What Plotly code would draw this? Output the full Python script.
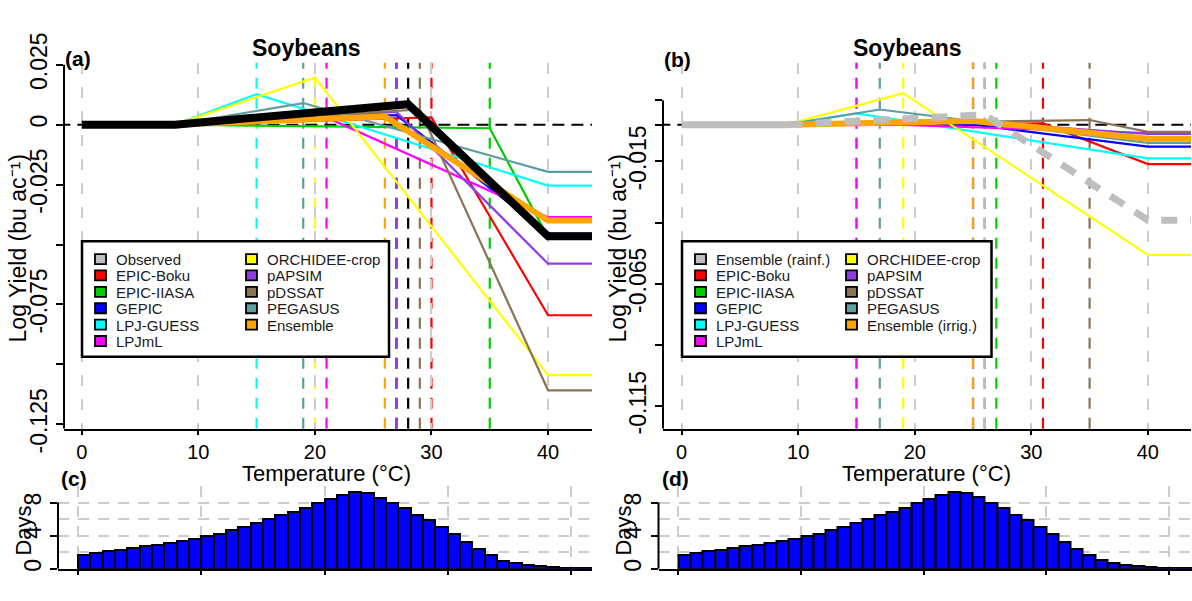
import plotly.graph_objects as go

W, H = 1192, 601
FONT = "Liberation Sans"

# ---------------- data ----------------
models_a = ["Observed", "EPIC-Boku", "EPIC-IIASA", "GEPIC", "LPJ-GUESS", "LPJmL",
            "ORCHIDEE-crop", "pAPSIM", "pDSSAT", "PEGASUS", "Ensemble"]
line_col_a = ["#000000", "#FF0000", "#00CD00", "#0000FF", "#00FFFF", "#FF00FF",
              "#FFFF00", "#8E3CE6", "#8B7355", "#5F9EA0", "#FFA500"]
leg_col_a = ["#BEBEBE", "#FF0000", "#00CD00", "#0000FF", "#00FFFF", "#FF00FF",
             "#FFFF00", "#8E3CE6", "#8B7355", "#5F9EA0", "#FFA500"]
start_a = 8
thr_a = [28, 30, 35, 27, 15, 21, 20, 27, 29, 19, 26]
peak_a = [0.0085, 0.0030, -0.0015, 0.0040, 0.0127, 0.0030, 0.0196, 0.0053, 0.0063, 0.0090, 0.0034]
end_a = [-0.0466, -0.0795, -0.0470, -0.0455, -0.0254, -0.0386, -0.1045, -0.0580, -0.1108, -0.0197, -0.0400]

models_b = ["Ensemble (rainf.)", "EPIC-Boku", "EPIC-IIASA", "GEPIC", "LPJ-GUESS", "LPJmL",
            "ORCHIDEE-crop", "pAPSIM", "pDSSAT", "PEGASUS", "Ensemble (irrig.)"]
line_col_b = ["#BEBEBE", "#FF0000", "#00CD00", "#0000FF", "#00FFFF", "#FF00FF",
              "#FFFF00", "#8E3CE6", "#8B7355", "#5F9EA0", "#FFA500"]
start_b = 9
thr_b = [26, 31, 27, 25, 15, 15, 19, 26, 35, 17, 25]
peak_b = [0.0040, 0.0005, 0.0005, 0.0000, 0.0046, 0.0005, 0.0129, 0.0010, 0.0019, 0.0062, 0.0015]
end_b = [-0.0390, -0.0161, -0.0060, -0.0090, -0.0138, -0.0034, -0.0532, -0.0038, -0.0029, -0.0074, -0.0057]

grid_temps = [0, 10, 20, 30, 40]

bin_left = list(range(0, 42))
days_c = [1.72, 1.90, 2.10, 2.30, 2.50, 2.70, 2.90, 3.15, 3.37, 3.60, 3.95, 4.25, 4.65, 5.00,
          5.50, 5.97, 6.50, 6.90, 7.30, 7.90, 8.40, 8.90, 9.30, 9.15, 8.60, 7.95, 7.30, 6.55,
          5.85, 5.00, 4.15, 3.20, 2.40, 1.65, 1.00, 0.70, 0.45, 0.30, 0.18, 0.10, 0.07, 0.04]
days_d = [1.70, 1.90, 2.10, 2.30, 2.50, 2.70, 2.90, 3.10, 3.40, 3.60, 3.95, 4.25, 4.65, 5.05,
          5.50, 6.00, 6.50, 6.90, 7.35, 7.90, 8.40, 8.90, 9.30, 9.15, 8.65, 7.95, 7.30, 6.50,
          5.85, 5.00, 4.15, 3.20, 2.40, 1.65, 1.10, 0.70, 0.45, 0.30, 0.18, 0.10, 0.07, 0.04]

ticks_a = [0.025, 0, -0.025, -0.075, -0.125]
minor_a = [-0.05, -0.1]
ticks_b = [-0.015, -0.065, -0.115]
minor_b = [0.01, 0, -0.04, -0.09]

# ---------------- helpers ----------------
def dx(px):
    return px / W


def dy(py):
    return 1 - py / H


fig = go.Figure()
shapes = []
annotations = []

GRIDCOL = "#CCCCCC"


def add_model_lines(xa, ya, start, thr, peak, end, cols, widths, order):
    for i in order:
        fig.add_trace(go.Scatter(
            x=[start, thr[i], 40, 45], y=[0, peak[i], end[i], end[i]],
            mode="lines", line=dict(color=cols[i], width=widths[i]),
            xaxis=xa, yaxis=ya, showlegend=False, hoverinfo="skip"))


def add_verticals(xref, thr, cols, order):
    for i in order:
        shapes.append(dict(type="line", xref=xref, yref="y" + xref[1:] + " domain",
                           x0=thr[i], x1=thr[i], y0=0, y1=1,
                           line=dict(color=cols[i], width=2.2, dash="11px,9px"), layer="below"))


def zero_line(xref, yref):
    shapes.append(dict(type="line", xref=xref, yref=yref, x0=-2, x1=46, y0=0, y1=0,
                       line=dict(color="black", width=2, dash="12px,7px"), layer="below"))


# panel (a)
add_verticals("x", thr_a, line_col_a, [3, 4, 9, 6, 5, 10, 7, 0, 8, 1, 2])
zero_line("x", "y")
widths_a = [8, 2.2, 2.2, 2.2, 2.2, 2.2, 2.2, 2.2, 2.2, 2.2, 6]
add_model_lines("x", "y", start_a, thr_a, peak_a, end_a, line_col_a, widths_a,
                [1, 2, 3, 4, 5, 6, 7, 8, 9, 10])
# observed (from 0)
fig.add_trace(go.Scatter(x=[0, start_a, thr_a[0], 40, 45], y=[0, 0, peak_a[0], end_a[0], end_a[0]],
                         mode="lines", line=dict(color=line_col_a[0], width=8),
                         xaxis="x", yaxis="y", showlegend=False, hoverinfo="skip"))

# panel (b)
add_verticals("x2", thr_b, line_col_b, [4, 5, 9, 6, 3, 10, 7, 0, 2, 1, 8])
zero_line("x2", "y2")
widths_b = [7, 2.2, 2.2, 2.2, 2.2, 2.2, 2.2, 2.2, 2.2, 2.2, 6]
add_model_lines("x2", "y2", start_b, thr_b, peak_b, end_b, line_col_b, widths_b,
                [1, 2, 3, 4, 5, 6, 7, 8, 9, 10])
# rainfed ensemble: solid flat part, dotted response part
fig.add_trace(go.Scatter(x=[0, start_b], y=[0, 0], mode="lines",
                         line=dict(color=line_col_b[0], width=7),
                         xaxis="x2", yaxis="y2", showlegend=False, hoverinfo="skip"))
fig.add_trace(go.Scatter(x=[start_b, thr_b[0], 40, 45], y=[0, peak_b[0], end_b[0], end_b[0]],
                         mode="lines", line=dict(color=line_col_b[0], width=7, dash="16px,13px"),
                         xaxis="x2", yaxis="y2", showlegend=False, hoverinfo="skip"))

# histograms
for xa, ya, days in [("x3", "y3", days_c), ("x4", "y4", days_d)]:
    fig.add_trace(go.Bar(x=[b + 0.5 for b in bin_left], y=days, width=1,
                         marker=dict(color="#0000FF", line=dict(color="black", width=2)),
                         xaxis=xa, yaxis=ya, showlegend=False, hoverinfo="skip"))

# ---------------- axes ----------------
xtickfont = dict(family=FONT, size=20, color="black")
ytickfont = dict(family=FONT, size=23, color="black")
common_x = dict(showline=True, linewidth=2, linecolor="black", ticks="outside", ticklen=4,
                tickwidth=2, tickcolor="black", zeroline=False, tickfont=xtickfont)
common_y = dict(showline=False, ticks="outside", ticklen=7, tickwidth=2, tickcolor="black",
                zeroline=False, showgrid=False, tickfont=ytickfont, tickangle=-90)


def minor_ticks(vals):
    return dict(tickmode="array", tickvals=vals, ticks="outside", ticklen=7, tickwidth=2,
                tickcolor="black", showgrid=False)


hist_minor = dict(tick0=0, dtick=2, ticks="", showgrid=True, gridcolor=GRIDCOL, gridwidth=1.5,
                  griddash="11px,9px")

layout = dict(
    width=W, height=H, margin=dict(l=0, r=0, t=0, b=0),
    paper_bgcolor="white", plot_bgcolor="white", bargap=0,
    font=dict(family=FONT, color="black"),
    xaxis=dict(domain=[dx(64), dx(592)], range=[-1.52, 43.77], anchor="y",
               tickvals=grid_temps, showgrid=True, gridcolor=GRIDCOL, gridwidth=1.5,
               griddash="11px,13px", **common_x),
    yaxis=dict(domain=[dy(438), dy(36)], range=[-0.1268, 0.0258], anchor="x",
               tickvals=ticks_a, ticktext=["0.025", "0", "-0.025", "-0.075", "-0.125"],
               minor=minor_ticks(minor_a), **common_y),
    xaxis2=dict(domain=[dx(663), dx(1191)], range=[-1.6, 43.7], anchor="y2",
                tickvals=grid_temps, showgrid=True, gridcolor=GRIDCOL, gridwidth=1.5,
                griddash="11px,13px", **common_x),
    yaxis2=dict(domain=[dy(438), dy(36)], range=[-0.1242, 0.0253], anchor="x2",
                tickvals=ticks_b, ticktext=["-0.015", "-0.065", "-0.115"],
                minor=minor_ticks(minor_b), **common_y),
    xaxis3=dict(domain=[dx(58), dx(592)], range=[-1.62, 41.7], anchor="y3",
                tickvals=grid_temps, showticklabels=False, showgrid=True, gridcolor=GRIDCOL,
                gridwidth=1.5, griddash="11px,9px", **common_x),
    yaxis3=dict(domain=[dy(592), dy(501)], range=[0, 10], anchor="x3",
                tickvals=[0, 4, 8], ticktext=["0", "4", "8"], minor=hist_minor, **common_y),
    xaxis4=dict(domain=[dx(658.5), dx(1192)], range=[-1.63, 41.9], anchor="y4",
                tickvals=grid_temps, showticklabels=False, showgrid=True, gridcolor=GRIDCOL,
                gridwidth=1.5, griddash="11px,9px", **common_x),
    yaxis4=dict(domain=[dy(592), dy(501)], range=[0, 10], anchor="x4",
                tickvals=[0, 4, 8], ticktext=["0", "4", "8"], minor=hist_minor, **common_y),
)

# y axis lines spanning only the tick range (R style)
for xr, yr, y0, y1 in [("x domain", "y", -0.1268, 0.025), ("x2 domain", "y2", -0.1242, 0.01),
                       ("x3 domain", "y3", 0, 8), ("x4 domain", "y4", 0, 8)]:
    shapes.append(dict(type="line", xref=xr, yref=yr, x0=0, x1=0, y0=y0, y1=y1,
                       line=dict(color="black", width=2), layer="above"))

# ---------------- legends (drawn boxes) ----------------
def legend(box_x0, box_x1, labels, fills):
    shapes.append(dict(type="rect", xref="paper", yref="paper",
                       x0=dx(box_x0), x1=dx(box_x1), y0=dy(359), y1=dy(232),
                       fillcolor="white", line=dict(color="black", width=2.5), layer="above"))
    for k, (lab, fc) in enumerate(zip(labels, fills)):
        col = 0 if k < 6 else 1
        row = k if k < 6 else k - 6
        cx = box_x0 + (18.5 if col == 0 else 169.5)
        cy = 251.7 + 18 * row
        shapes.append(dict(type="rect", xref="paper", yref="paper",
                           x0=dx(cx - 5.5), x1=dx(cx + 5.5), y0=dy(cy + 5.5), y1=dy(cy - 5.5),
                           fillcolor=fc, line=dict(color="black", width=1.8), layer="above"))
        annotations.append(dict(text=lab, xref="paper", yref="paper", x=dx(cx + 13), y=dy(cy + 0.5),
                                xanchor="left", yanchor="middle", showarrow=False,
                                font=dict(family=FONT, size=15, color="#1A1A1A")))


legend(82, 389, models_a, leg_col_a)
legend(682, 991.5, models_b, line_col_b)

# ---------------- texts ----------------
def txt(s, px, py, size, bold=False, angle=0):
    annotations.append(dict(text=("<b>%s</b>" % s) if bold else s, xref="paper", yref="paper",
                            x=dx(px), y=dy(py), xanchor="center", yanchor="middle",
                            showarrow=False, textangle=angle,
                            font=dict(family=FONT, size=size, color="black")))


txt("Soybeans", 306, 20, 23, bold=True)
txt("Soybeans", 907, 20, 23, bold=True)
txt("(a)", 78, 31, 21, bold=True)
txt("(b)", 677, 32, 21, bold=True)
txt("(c)", 74, 493, 21, bold=True)
txt("(d)", 675, 493, 21, bold=True)
txt("Temperature (°C)", 326, 487, 22)
txt("Temperature (°C)", 926, 487, 22)
txt("Log Yield (bu ac\u207B\u00B9)", 18, 240, 23, angle=-90)
txt("Log Yield (bu ac\u207B\u00B9)", 618, 240, 23, angle=-90)
txt("Days", 24, 550, 22, angle=-90)
txt("Days", 624, 550, 22, angle=-90)

layout["shapes"] = shapes
layout["annotations"] = annotations
fig.update_layout(**layout)
fig.write_html("out.html")
